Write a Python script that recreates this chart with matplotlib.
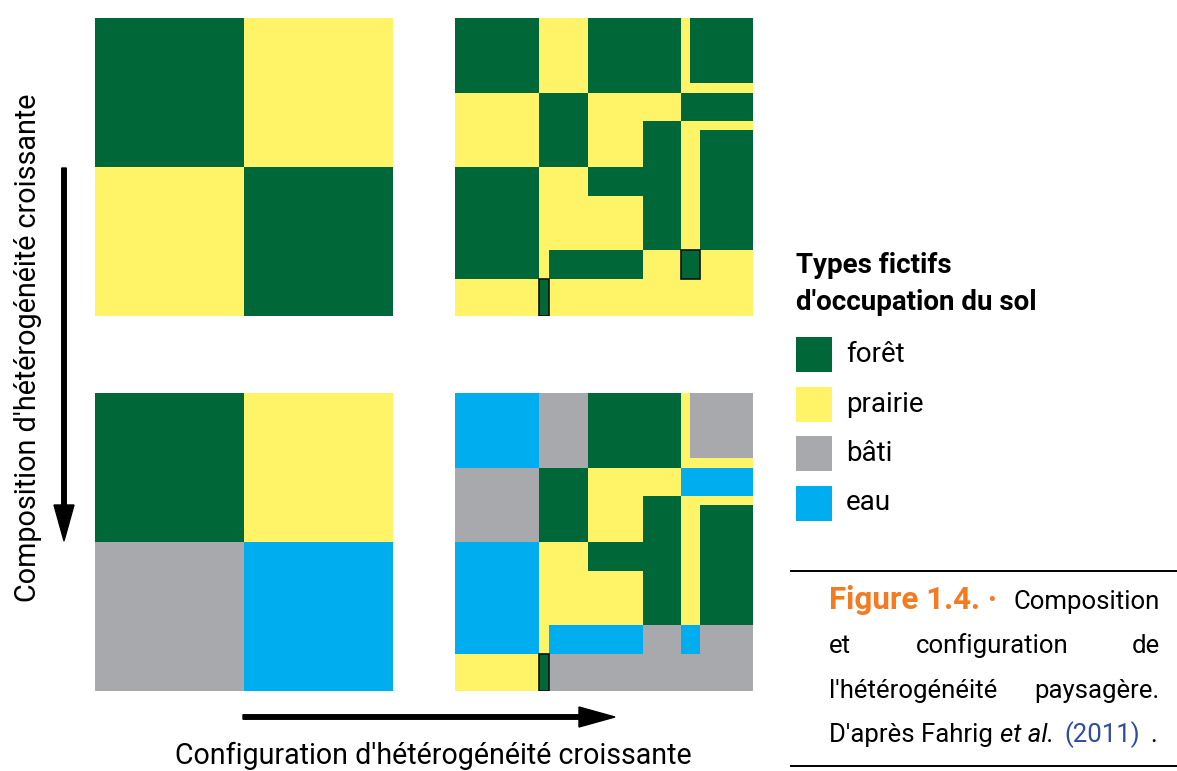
import numpy as np
import matplotlib as mpl
import matplotlib.pyplot as plt
from matplotlib.colors import ListedColormap
from matplotlib.patches import Rectangle

# land-cover classes and colours
classes = ["forêt", "prairie", "bâti", "eau"]
class_colors = ["#006838", "#FFF367", "#A7A9AC", "#00AEEF"]
code = {"F": 0, "P": 1, "B": 2, "W": 3}

# simple landscapes (2 x 2 cells)
simple_edges = [0, 149, 298]
simple_top = ["FP",
              "PF"]
simple_bottom = ["FP",
                 "BW"]

# complex landscapes: irregular cell boundaries (panel units)
x_edges = [0, 84, 94, 133, 188, 226, 235, 245, 298]
y_edges = [0, 65, 75, 103, 112, 149, 178, 232, 261, 298]
complex_top = ["FPPFFPFF",
               "FPPFFPPP",
               "PFFPPFFF",
               "PFFPFPPP",
               "PFFPFPPF",
               "FPPFFPPF",
               "FPPPFPPF",
               "FPFFPFFP",
               "PFPPPPPP"]
complex_bottom = ["WBBFFPBB",
                  "WBBFFPPP",
                  "BFFPPWWW",
                  "BFFPFPPP",
                  "BFFPFPPF",
                  "WPPFFPPF",
                  "WPPPFPPF",
                  "WPWWBWWB",
                  "PFBBBBBB"]
# outlined cells: (row, first col, last col)
outlined_top = [(7, 5, 6), (8, 1, 1)]
outlined_bottom = [(8, 1, 1)]

W, H = 1177, 771
fig = plt.figure(figsize=(W / 100, H / 100), dpi=100)
plt.rcParams["font.family"] = "Roboto"

cmap = ListedColormap(class_colors)


def to_grid(rows):
    return np.array([[code[c] for c in r] for r in rows])


def panel(x0, y0, xe, ye, rows, outlined=()):
    ax = fig.add_axes([x0 / W, 1 - (y0 + 298) / H, 298 / W, 298 / H])
    ax.pcolormesh(xe, ye, to_grid(rows), cmap=cmap, vmin=-0.5, vmax=3.5,
                  shading="flat", antialiased=False, linewidth=0)
    for r, c0, c1 in outlined:
        ax.add_patch(Rectangle((xe[c0], ye[r]), xe[c1 + 1] - xe[c0],
                               ye[r + 1] - ye[r], fill=False,
                               ec="#111111", lw=1.2))
    ax.set_xlim(0, 298)
    ax.set_ylim(298, 0)
    ax.axis("off")
    return ax


panel(95, 18, simple_edges, simple_edges, simple_top)
panel(455, 18, x_edges, y_edges, complex_top, outlined_top)
panel(95, 393, simple_edges, simple_edges, simple_bottom)
panel(455, 393, x_edges, y_edges, complex_bottom, outlined_bottom)

# overlay in pixel coordinates for arrows, labels, legend and caption
ov = fig.add_axes([0, 0, 1, 1], zorder=-1)
ov.set_xlim(0, W)
ov.set_ylim(H, 0)
ov.axis("off")

ov.arrow(64, 168, 0, 373, width=4.5, head_width=20, head_length=36,
         length_includes_head=True, color="black")
ov.arrow(243, 717, 372, 0, width=4.5, head_width=20, head_length=36,
         length_includes_head=True, color="black")
ov.text(28, 348, "Composition d'hétérogénéité croissante", rotation=90,
        ha="center", va="center", fontsize=20.7)
ov.text(433, 764, "Configuration d'hétérogénéité croissante",
        ha="center", va="baseline", fontsize=20.6)

# legend
ov.text(796, 273, "Types fictifs", fontsize=20, fontweight="bold",
        va="baseline")
ov.text(796, 310, "d'occupation du sol", fontsize=20, fontweight="bold",
        va="baseline")
for i, (name, col) in enumerate(zip(classes, class_colors)):
    y = 337 + 49.5 * i
    ov.add_patch(Rectangle((796, y), 36, 35, color=col, lw=0))
    ov.text(846, y + 17.5, name, fontsize=20, va="center")

# caption
ov.plot([791, 1177], [571, 571], color="black", lw=1.4)
ov.plot([791, 1177], [766, 766], color="black", lw=1.4)
cap = 18.5
ov.text(829, 609, "Figure 1.4. ·", color="#F47B20", fontweight="bold",
        fontsize=22.5, va="baseline")
ov.text(1160, 609, "Composition", fontsize=cap, ha="right", va="baseline")
ov.text(829, 653, "et", fontsize=cap, va="baseline")
ov.text(992, 653, "configuration", fontsize=cap, ha="center", va="baseline")
ov.text(1160, 653, "de", fontsize=cap, ha="right", va="baseline")
ov.text(829, 698, "l'hétérogénéité", fontsize=cap, va="baseline")
ov.text(1160, 698, "paysagère.", fontsize=cap, ha="right", va="baseline")
ov.text(829, 742, "D'après Fahrig", fontsize=cap, va="baseline")
ov.text(1000, 742, "et al.", fontsize=cap, style="italic", va="baseline")
ov.text(1064, 742, "(2011)", fontsize=cap, color="#2F4C9E", va="baseline")
ov.text(1150, 742, ".", fontsize=cap, va="baseline")

fig.savefig("out.png", dpi=100)
